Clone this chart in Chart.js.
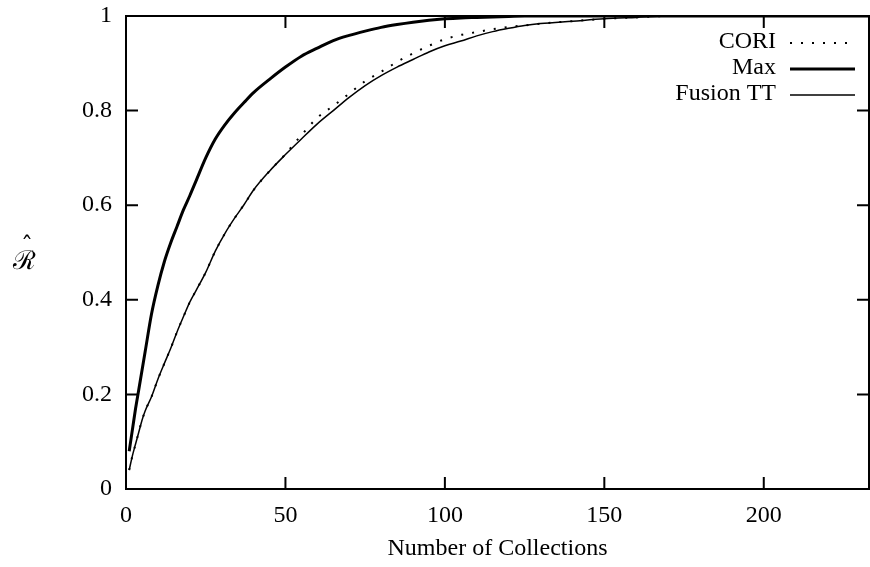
<!DOCTYPE html>
<html>
<head>
<meta charset="utf-8">
<script src="https://cdn.jsdelivr.net/npm/chart.js@4/dist/chart.umd.min.js"></script>
<style>
  html, body { margin:0; padding:0; background:#fff; }
  #wrap { width:870px; height:567px; }
</style>
</head>
<body>
<div id="wrap"><canvas id="c" width="870" height="567"></canvas></div>
<script>
// number of collections searched
const xs = [1,2,3,4,5,6,8,10,12,14,16,18,20,22,25,28,31,34,37,40,45,50,55,60,65,70,75,80,85,90,95,100,105,110,115,120,125,130,140,150,160,170,180,200,220,233];
// recall estimates
const cori = [0.04,0.07,0.095,0.12,0.145,0.165,0.195,0.232,0.265,0.297,0.332,0.364,0.395,0.42,0.458,0.503,0.54,0.572,0.601,0.632,0.672,0.708,0.748,0.785,0.81,0.836,0.862,0.882,0.903,0.921,0.937,0.951,0.96,0.966,0.972,0.977,0.98,0.984,0.989,0.994,0.997,1,1,1,1,1];
const maxR = [0.08,0.125,0.17,0.21,0.25,0.29,0.37,0.43,0.48,0.52,0.555,0.59,0.62,0.652,0.7,0.74,0.77,0.795,0.817,0.838,0.866,0.892,0.915,0.932,0.948,0.959,0.968,0.976,0.982,0.987,0.991,0.994,0.996,0.997,0.998,0.999,1,1,1,1,1,1,1,1,1,1];
const fusion = [0.04,0.07,0.095,0.12,0.145,0.165,0.195,0.232,0.265,0.297,0.332,0.364,0.395,0.42,0.458,0.503,0.54,0.572,0.601,0.632,0.672,0.707,0.74,0.772,0.8,0.828,0.853,0.874,0.892,0.908,0.924,0.937,0.947,0.958,0.967,0.974,0.98,0.984,0.989,0.994,0.997,1,1,1,1,1];
const xTicks = [0,50,100,150,200];
const yTicks = [0,0.2,0.4,0.6,0.8,1];

const FONT = '"Liberation Serif", "DejaVu Serif", serif';
const pts = ys => xs.map((x,i)=>({x, y:ys[i]}));

// frame, inward ticks on all four sides, legend and y title (gnuplot look)
const frame = {
  id:'frame',
  afterDatasetsDraw(chart){
    const {ctx, chartArea:a, scales:{x, y}} = chart;
    ctx.save();
    ctx.strokeStyle = '#000'; ctx.lineWidth = 2;
    ctx.strokeRect(a.left, a.top, a.right - a.left, a.bottom - a.top);
    const tl = 12;
    ctx.beginPath();
    xTicks.forEach(v=>{
      const px = x.getPixelForValue(v);
      ctx.moveTo(px, a.bottom); ctx.lineTo(px, a.bottom - tl);
      ctx.moveTo(px, a.top); ctx.lineTo(px, a.top + tl);
    });
    yTicks.forEach(v=>{
      const py = y.getPixelForValue(v);
      ctx.moveTo(a.left, py); ctx.lineTo(a.left + tl, py);
      ctx.moveTo(a.right, py); ctx.lineTo(a.right - tl, py);
    });
    ctx.stroke();

    // legend: text right aligned, sample to the right
    ctx.font = '24px ' + FONT;
    ctx.fillStyle = '#000';
    ctx.textAlign = 'right'; ctx.textBaseline = 'middle';
    chart.data.datasets.forEach((ds,i)=>{
      const cy = 42 + i*26;
      ctx.fillText(ds.label, 776, cy);
      ctx.save();
      ctx.lineWidth = ds.borderWidth;
      ctx.setLineDash(ds.borderDash || []);
      ctx.beginPath(); ctx.moveTo(790, cy + 1); ctx.lineTo(855, cy + 1); ctx.stroke();
      ctx.restore();
    });

    // y title, horizontal: script R with a hat
    ctx.textAlign = 'center';
    ctx.font = '26px "DejaVu Serif", serif';
    ctx.fillText('\u211B', 24, 262);
    ctx.font = '24px "DejaVu Serif", serif';
    ctx.fillText('\u02C6', 27, 248);
    ctx.restore();
  }
};

new Chart(document.getElementById('c'), {
  type:'scatter',
  data:{
    datasets:[
      {label:'CORI', data:pts(cori), showLine:true, borderColor:'#000', borderWidth:2, borderDash:[2,9], pointRadius:0, cubicInterpolationMode:'monotone'},
      {label:'Max', data:pts(maxR), showLine:true, borderColor:'#000', borderWidth:3, pointRadius:0, cubicInterpolationMode:'monotone'},
      {label:'Fusion TT', data:pts(fusion), showLine:true, borderColor:'#000', borderWidth:1.5, pointRadius:0, cubicInterpolationMode:'monotone'}
    ]
  },
  options:{
    responsive:false, animation:false,
    layout:{padding:{top:16, right:1, left:0, bottom:0}},
    plugins:{legend:{display:false}, tooltip:{enabled:false}},
    scales:{
      x:{
        type:'linear', min:0, max:233,
        afterBuildTicks: s => { s.ticks = xTicks.map(v=>({value:v})); },
        afterFit: s => { s.height = 78; s.paddingLeft = 0; s.paddingRight = 0; },
        grid:{display:false, drawTicks:false}, border:{display:false},
        ticks:{color:'#000', padding:12, maxRotation:0, font:{family:FONT, size:24}},
        title:{display:true, text:'Number of Collections', color:'#000', font:{family:FONT, size:24}, padding:{top:14}}
      },
      y:{
        min:0, max:1,
        afterBuildTicks: s => { s.ticks = yTicks.map(v=>({value:v})); },
        afterFit: s => { s.width = 126; s.paddingTop = 0; s.paddingBottom = 0; },
        grid:{display:false, drawTicks:false}, border:{display:false},
        ticks:{color:'#000', padding:14, font:{family:FONT, size:24}, callback: v => String(v)}
      }
    }
  },
  plugins:[frame]
});
</script>
</body>
</html>
